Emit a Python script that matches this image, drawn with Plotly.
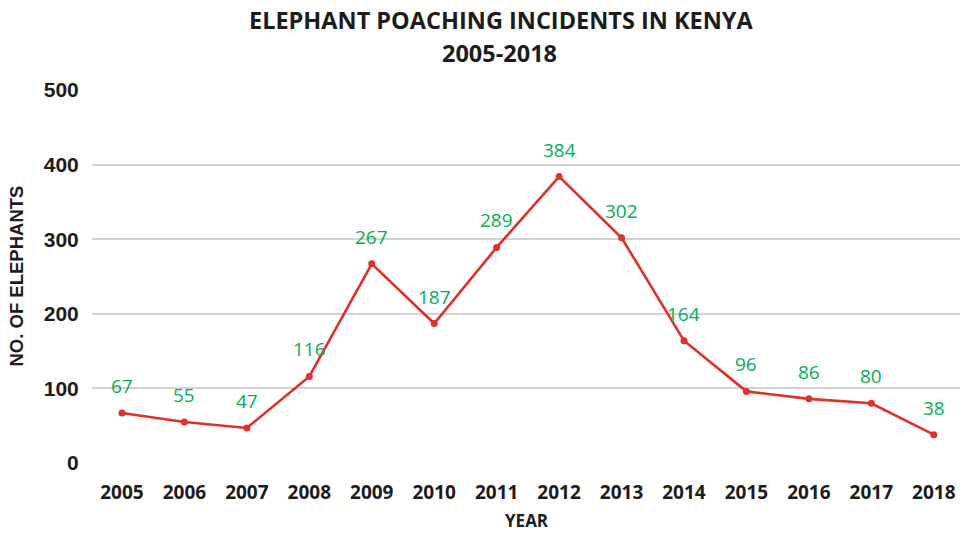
import plotly.graph_objects as go

# Elephant poaching incidents recorded in Kenya per year
years = [2005, 2006, 2007, 2008, 2009, 2010, 2011, 2012, 2013, 2014, 2015, 2016, 2017, 2018]
elephants = [67, 55, 47, 116, 267, 187, 289, 384, 302, 164, 96, 86, 80, 38]
y_ticks = [0, 100, 200, 300, 400, 500]

LINE_RED = "#E0302A"
LABEL_GREEN = "#00B050"
TEXT_DARK = "#1c1c1c"

fig = go.Figure()

fig.add_trace(go.Scatter(
    x=years,
    y=elephants,
    mode="lines+markers",
    line=dict(color=LINE_RED, width=2.6),
    marker=dict(color=LINE_RED, size=7),
    hoverinfo="x+y",
    showlegend=False,
))

# value labels above each point
annotations = [
    dict(x=yr, y=val, text=str(val), xref="x", yref="y",
         showarrow=False, yshift=27, xanchor="center", yanchor="middle",
         font=dict(family="Open Sans", size=19, color=LABEL_GREEN))
    for yr, val in zip(years, elephants)
]

# two-line chart title
annotations += [
    dict(text="<b>ELEPHANT POACHING INCIDENTS IN KENYA</b>", xref="paper", yref="paper",
         x=(501 - 92) / 868, y=1 + (90 - 20) / 373, showarrow=False,
         xanchor="center", yanchor="middle",
         font=dict(family="Open Sans", size=23.5, color=TEXT_DARK)),
    dict(text="<b>2005-2018</b>", xref="paper", yref="paper",
         x=(499 - 92) / 868, y=1 + (90 - 53) / 373, showarrow=False,
         xanchor="center", yanchor="middle",
         font=dict(family="Open Sans", size=23.5, color=TEXT_DARK)),
    # vertical y-axis title
    dict(text="<b>NO. OF ELEPHANTS</b>", xref="paper", yref="paper",
         x=(16 - 92) / 868, y=0.5, showarrow=False, textangle=-90,
         xanchor="center", yanchor="middle",
         font=dict(family="Liberation Sans", size=18.5, color=TEXT_DARK)),
    # x-axis title
    dict(text="<b>YEAR</b>", xref="paper", yref="paper",
         x=(527 - 92) / 868, y=-(520 - 463) / 373, showarrow=False,
         xanchor="center", yanchor="middle",
         font=dict(family="Open Sans", size=17, color=TEXT_DARK)),
]

fig.update_layout(
    width=960,
    height=533,
    margin=dict(l=92, r=0, t=90, b=70),
    paper_bgcolor="white",
    plot_bgcolor="white",
    annotations=annotations,
    xaxis=dict(
        range=[2004.52, 2018.42],
        tickmode="array",
        tickvals=years,
        ticktext=[f"<b>{y}</b>" for y in years],
        tickfont=dict(family="Open Sans", size=19, color=TEXT_DARK),
        showgrid=False,
        zeroline=False,
        showline=False,
        ticks="outside",
        ticklen=12,
        tickcolor="rgba(0,0,0,0)",
    ),
    yaxis=dict(
        range=[0, 500],
        tickmode="array",
        tickvals=y_ticks,
        ticktext=[f"<b>{v}</b>" for v in y_ticks],
        tickfont=dict(family="Liberation Sans", size=21, color=TEXT_DARK),
        showgrid=True,
        gridcolor="#D3D3D3",
        gridwidth=2,
        zeroline=False,
        showline=False,
        ticks="outside",
        ticklen=8,
        tickcolor="rgba(0,0,0,0)",
    ),
)

fig.write_html("out.html")
